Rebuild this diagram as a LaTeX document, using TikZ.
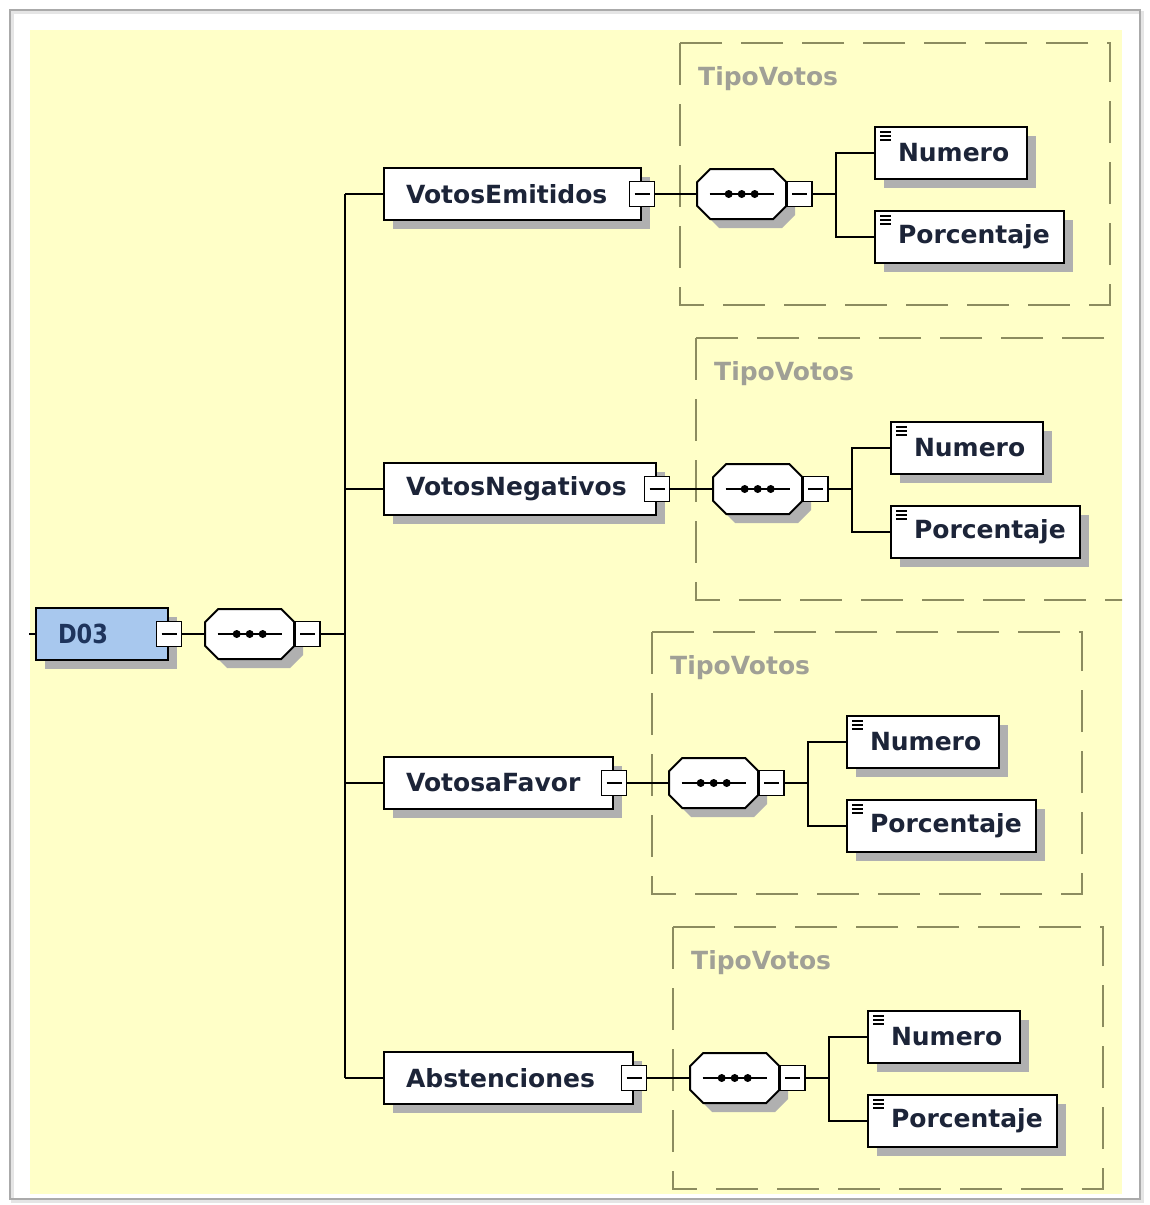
\documentclass[tikz,border=0pt]{standalone}
\usepackage{fontspec}
\setmainfont{DejaVu Sans}
\usepackage{graphicx}
\usetikzlibrary{shadows}
\definecolor{bgyellow}{RGB}{255,255,200}
\definecolor{dashc}{RGB}{140,140,95}
\definecolor{tipoc}{RGB}{160,160,150}
\definecolor{txtc}{RGB}{28,36,56}
\definecolor{d03txt}{RGB}{30,52,92}
\definecolor{shadc}{RGB}{176,176,176}
\definecolor{d03c}{RGB}{168,200,238}
\definecolor{framec}{RGB}{170,170,170}
\tikzset{
  every node/.style={font=\fontsize{25}{30}\selectfont\bfseries, text=txtc},
  shad/.style={drop shadow={shadow xshift=9pt, shadow yshift=-9pt, fill=shadc, opacity=1}},
  elem/.style={draw=black, line width=2pt, fill=white, anchor=west,
    inner xsep=12pt, inner ysep=0pt, minimum height=52pt, align=left,
    execute at begin node={\hspace*{10pt}}, shad},
  leaf/.style={draw=black, line width=2pt, fill=white, anchor=west,
    inner xsep=12pt, inner ysep=0pt, minimum height=52pt, align=left,
    execute at begin node={\hspace*{11pt}}, shad,
    path picture={
      \foreach \dy in {5,9,13}{
        \draw[black, line width=1.3pt] ([xshift=5pt,yshift=-\dy pt]path picture bounding box.north west) -- ++(11,0);
      }}},
  minusbox/.style={draw=black, line width=1.6pt, fill=white, minimum size=25pt, inner sep=0pt,
    path picture={\draw[black, line width=1.5pt] ([xshift=5pt]path picture bounding box.west) -- ([xshift=-5pt]path picture bounding box.east);}},
  seqbase/.style={minimum width=89pt, minimum height=50pt, inner sep=0pt},
  octo/.style={draw=black, line width=2pt, fill=white, line join=miter},
  conn/.style={draw=black, line width=1.8pt},
  dashbox/.style={draw=dashc, line width=2pt, dash pattern=on 42pt off 19pt},
  tipo/.style={anchor=west, inner sep=0pt, text=tipoc}
}
% sequence compositor: name, west point
\newcommand{\seqnode}[2]{%
  \node[seqbase, anchor=west] (#1) at #2 {};
  \fill[shadc] ([shift={(9pt,-9pt)}]#1.center) ++(-31.5,-25) -- ++(63,0) -- ++(13,13) -- ++(0,24)
     -- ++(-13,13) -- ++(-63,0) -- ++(-13,-13) -- ++(0,-24) -- cycle;
  \path[octo] (#1.center) ++(-31.5,-25) -- ++(63,0) -- ++(13,13) -- ++(0,24)
     -- ++(-13,13) -- ++(-63,0) -- ++(-13,-13) -- ++(0,-24) -- cycle;
  \draw[black, line width=1.8pt] ([xshift=-32pt]#1.center) -- ([xshift=32pt]#1.center);
  \foreach \dx in {-13,0,13}{\fill[black] ([xshift=\dx pt]#1.center) circle (4pt);}
}
\begin{document}
\begin{tikzpicture}[x=1pt,y=-1pt]
\fill[white] (0,0) rectangle (1149,1205);
\useasboundingbox (0,0) rectangle (1149,1205);
% frame
\draw[black!10, line width=3pt] (12,12) rectangle (1142,1201);
\draw[framec, line width=1.4pt] (10,10) rectangle (1140,1199);
\fill[bgyellow] (30,30) rectangle (1122,1194);
% type containers
\begin{scope}
  \clip (30,30) rectangle (1122,1194);
  \foreach \L/\Y in {697/194, 713/489, 669/783, 690/1078}{
    \draw[dashbox] ({\L-17},{\Y-151}) rectangle ({\L+413},{\Y+111});
  }
\end{scope}
\foreach \i/\L/\Y in {1/697/194, 2/713/489, 3/669/783, 4/690/1078}{
  \node[tipo] (tv\i) at ({\L+1},{\Y-115}) {TipoVotos};
}
% root
\node[elem, fill=d03c, text width=108pt, text=d03txt] (d03) at (35,634) {\scalebox{0.9}[1.05]{D03}};
\node[minusbox] (d03m) at (d03.east) {};
\seqnode{s0}{(205,634)}
\node[minusbox, anchor=west] (sm0) at (s0.east) {};
\coordinate (stub) at (29,634);
\coordinate (t0) at (345,634);
\draw[conn] (stub) -- (d03.west);
\draw[conn] (d03m.east) -- (s0.west);
\draw[conn] (sm0.east) -- (t0);
% children
\foreach \i/\L/\Y/\tw/\nm in {1/697/194/233/VotosEmitidos, 2/713/489/248/VotosNegativos, 3/669/783/205/VotosaFavor, 4/690/1078/225/Abstenciones}{
  \node[elem, text width=\tw pt] (e\i) at (383,\Y) {\nm};
  \node[minusbox] (em\i) at (e\i.east) {};
  \seqnode{s\i}{(\L,\Y)}
  \node[minusbox, anchor=west] (sm\i) at (s\i.east) {};
  \node[leaf, text width=128pt] (n\i) at ({\L+177},{\Y-41}) {Numero};
  \node[leaf, text width=165pt] (p\i) at ({\L+177},{\Y+43}) {Porcentaje};
  \coordinate (b\i) at ({\L+139},\Y);
  \coordinate (t\i) at (345,\Y);
  \draw[conn] (t\i) -- (e\i.west);
  \draw[conn] (em\i.east) -- (s\i.west);
  \draw[conn] (sm\i.east) -- (b\i);
  \draw[conn] (b\i) |- (n\i.west);
  \draw[conn] (b\i) |- (p\i.west);
}
\draw[conn] (t1) -- (t4);
\end{tikzpicture}
\end{document}
